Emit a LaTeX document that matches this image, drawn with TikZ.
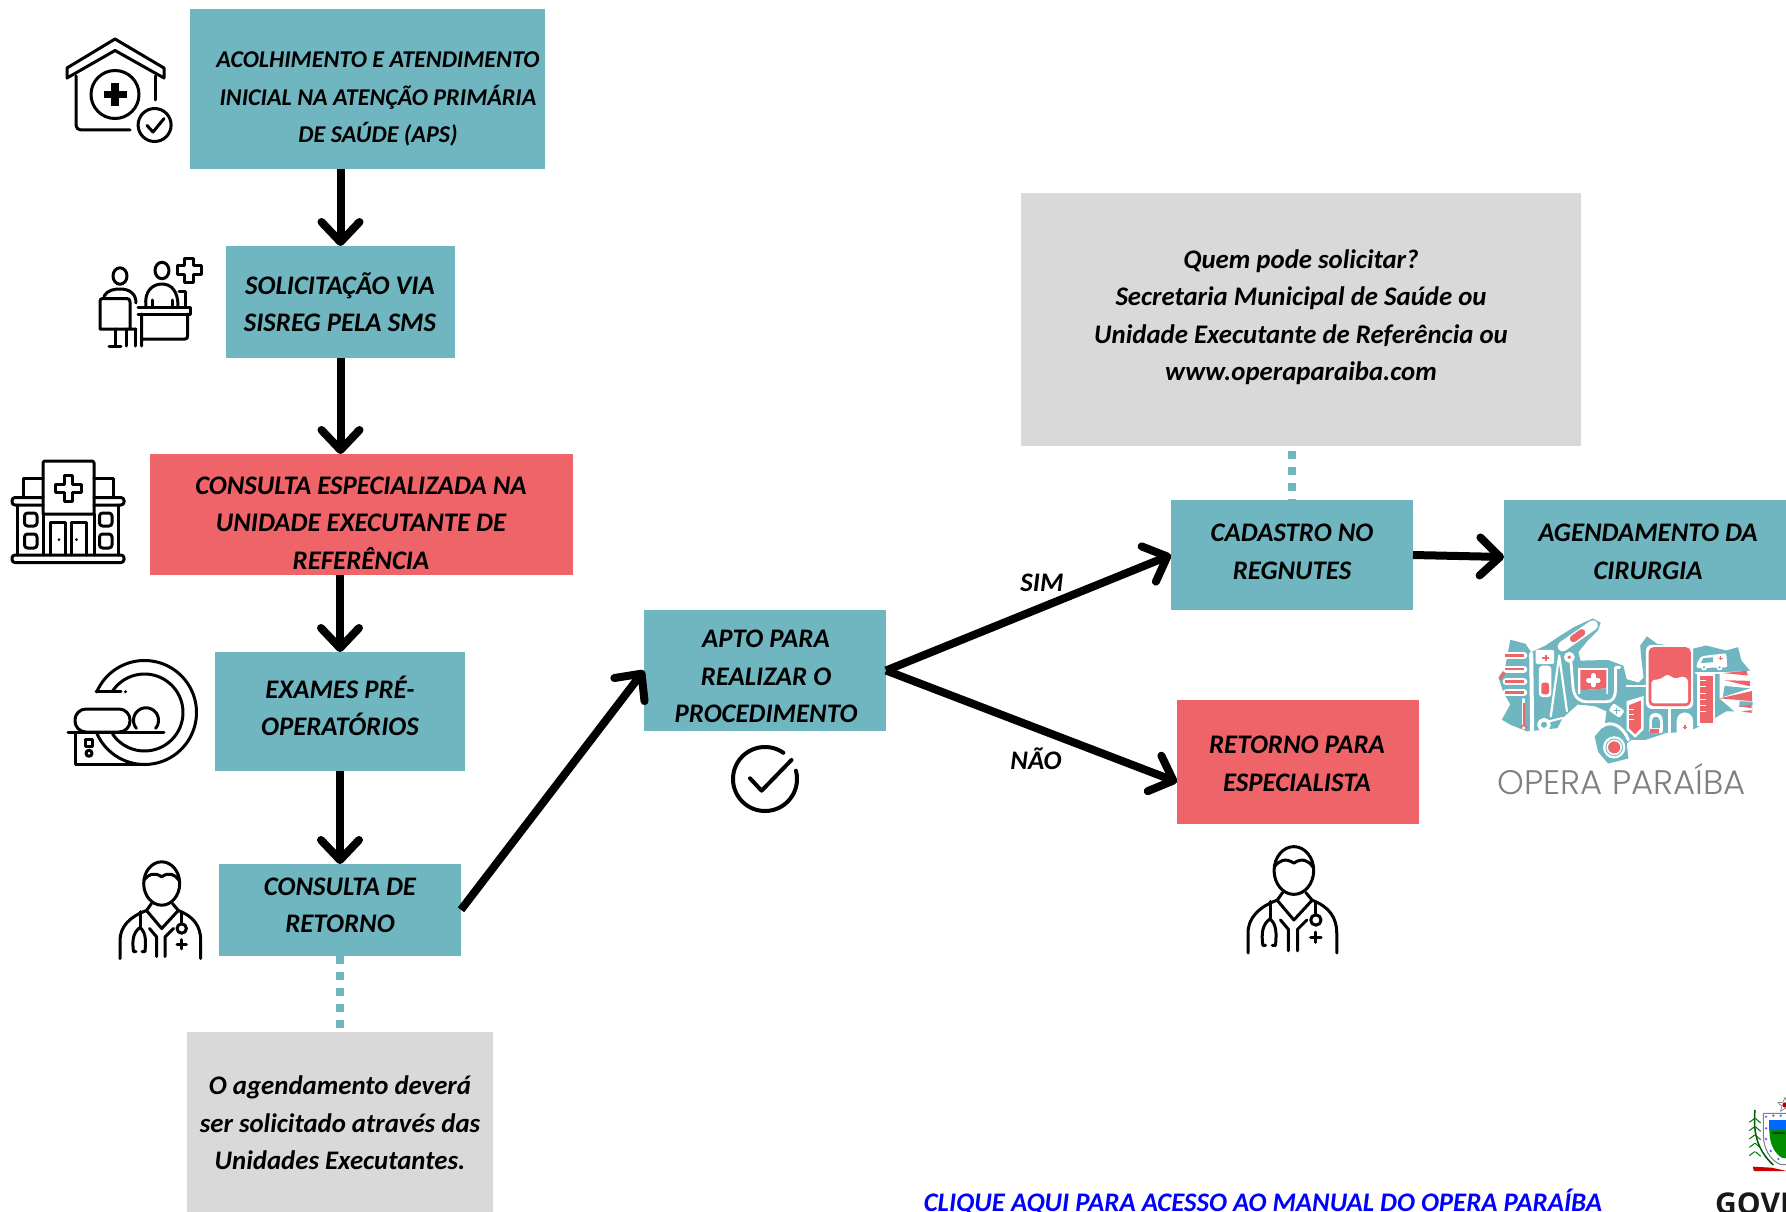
\documentclass[tikz,border=0pt]{standalone}
\usepackage{fontspec}
\usetikzlibrary{arrows.meta,calc,shapes.geometric}
\setmainfont{Carlito}
\newfontfamily\logofont{Poppins}[UprightFont=* Light]
\newfontfamily\govfont{Open Sans}
\definecolor{tealbox}{HTML}{6FB6C1}
\definecolor{redbox}{HTML}{EE6468}
\definecolor{graybox}{HTML}{D9D9D9}
\definecolor{logotext}{HTML}{7F7F7F}
\tikzset{
  block/.style={inner sep=0pt,outer sep=0pt,draw=none},
  tbox/.style={block,fill=tealbox},
  rbox/.style={block,fill=redbox},
  gbox/.style={block,fill=graybox},
  txt/.style={inner sep=0pt,align=center,text=black,font={\fontsize{26.8}{37.5}\selectfont\bfseries\itshape}},
  txts/.style={inner sep=0pt,align=center,text=black,font={\fontsize{24.1}{37.5}\selectfont\bfseries\itshape}},
  flow/.style={line width=8pt,draw=black,-{Straight Barb[length=20pt,width=38pt,round]}},
  dots/.style={draw=tealbox,line width=8.5pt,dash pattern=on 8pt off 8pt},
  ic/.style={line width=3pt,draw=black,line cap=round,line join=round},
  wline/.style={draw=white,line cap=round,line join=round},
  pics/doctor/.style={code={
    \draw[ic] (51.7,35) ellipse [x radius=18,y radius=21.7];
    \draw[ic] (34,31.7) .. controls (38,26) and (44,23) .. (51.7,28.3) .. controls (59,23) and (65,26) .. (69,31.7);
    \draw[ic] (41.5,55) -- (36.5,62) -- (51.7,80) -- (68.3,62) -- (62.5,55);
    \draw[ic] (36.5,62) .. controls (20,68) and (10,78) .. (10,92) -- (10,110);
    \draw[ic] (68.3,62) .. controls (84,68) and (90.7,78) .. (90.7,92) -- (90.7,110);
    \draw[ic] (39.5,80) -- (46.7,88.5) -- (46.7,108);
    \draw[ic] (63.5,80) -- (55,88.5) -- (55,108);
    \draw[ic] (30,63) -- (30,78);
    \draw[ic] (26,103) -- (23.5,103) .. controls (22,92) and (23,84) .. (30,79) .. controls (36,84) and (36,92) .. (35,103) -- (32,103);
    \draw[ic] (71.7,64) -- (71.7,74);
    \draw[ic] (71.7,80) circle [radius=4.7];
    \draw[ic] (67,95.7) -- (76.4,95.7) (71.7,91) -- (71.7,100.4);
  }}
}
\begin{document}
\begin{tikzpicture}[x=1pt,y=-1pt]
\useasboundingbox (0,0) rectangle (1786,1212);
\begin{scope}
\clip (0,0) rectangle (1786,1212);
% ---- boxes
\node[tbox,minimum width=355pt,minimum height=160pt] (b1) at (367.5,89) {};
\node[tbox,minimum width=229pt,minimum height=112pt] (b2) at (340.5,302) {};
\node[rbox,minimum width=423pt,minimum height=121pt] (b3) at (361.5,514.5) {};
\node[tbox,minimum width=250pt,minimum height=119pt] (b4) at (340,711.5) {};
\node[tbox,minimum width=242pt,minimum height=91.6pt] (b5) at (340,909.8) {};
\node[gbox,minimum width=306pt,minimum height=180pt] (note1) at (340,1122) {};
\node[tbox,minimum width=242pt,minimum height=121pt] (apto) at (765,670.5) {};
\node[tbox,minimum width=242pt,minimum height=110pt] (cad) at (1292,555) {};
\node[tbox,minimum width=282pt,minimum height=100pt] (agen) at (1645,550) {};
\node[rbox,minimum width=242pt,minimum height=124.5pt] (ret) at (1298,762) {};
\node[gbox,minimum width=560pt,minimum height=253pt] (note2) at (1301,319.5) {};
% ---- connectors
\draw[dots] (b5.south) -- (note1.north);
\draw[dots,dash phase=11pt] (note2.south -| cad.north) -- (cad.north);
\draw[flow] (b1.south -| b2.north) -- (b2.north);
\draw[flow] (b2.south) -- (b3.north -| b2.south);
\draw[flow] (b3.south -| b4.north) -- (b4.north);
\draw[flow] (b4.south) -- (b5.north);
\draw[flow] (b5.east) -- (apto.west);
\draw[flow] (apto.east) -- (cad.west);
\draw[flow] (apto.east) -- ([yshift=-20pt]ret.west);
\draw[flow] (cad.east) -- ([yshift=-7pt]agen.west);
% ---- texts
\node[txts] (t1) at (378,99) {ACOLHIMENTO E ATENDIMENTO\\INICIAL NA ATENÇÃO PRIMÁRIA\\DE SAÚDE (APS)};
\node[txt] (t2) at (340,302) {SOLICITAÇÃO VIA\\SISREG PELA SMS};
\node[txt] (t3) at (361,523) {CONSULTA ESPECIALIZADA NA\\UNIDADE EXECUTANTE DE\\REFERÊNCIA};
\node[txt] (t4) at (340,706) {EXAMES PRÉ-\\OPERATÓRIOS};
\node[txt] (t5) at (340,905.5) {CONSULTA DE\\RETORNO};
\node[txt] (t6) at (340,1123) {O agendamento deverá\\ser solicitado através das\\Unidades Executantes.};
\node[txt] (t7) at (1301,317) {Quem pode solicitar?\\Secretaria Municipal de Saúde ou\\Unidade Executante de Referência ou\\www.operaparaiba.com};
\node[txt] (t8) at (766,676.5) {APTO PARA\\REALIZAR O\\PROCEDIMENTO};
\node[txt] (t9) at (1292,552) {CADASTRO NO\\REGNUTES};
\node[txt] (t10) at (1648,552) {AGENDAMENTO DA\\CIRURGIA};
\node[txt] (t11) at (1297,764) {RETORNO PARA\\ESPECIALISTA};
\node[txt] (sim) at (1042,583) {SIM};
\node[txt] (nao) at (1036,759) {NÃO};
\node[txt,text=blue,anchor=base] (link) at (1263,1211) {CLIQUE AQUI PARA ACESSO AO MANUAL DO OPERA PARAÍBA};
% ---- house icon
\draw[ic] (67,68) -- (115,39) -- (164,68) -- (164,78) -- (115,50.5) -- (67,78) -- cycle;
\draw[ic] (76,76) -- (76,124) .. controls (76,128) and (78,130) .. (82,130) -- (130,130);
\draw[ic] (155,76) -- (155,100);
\draw[ic] (115,94.5) circle [radius=24];
\draw[line width=7.5pt] (103.5,94.5) -- (126.5,94.5) (115,83) -- (115,106);
\draw[ic] (154.6,125) circle [radius=16.5];
\draw[ic] (147,125.5) -- (153,132) -- (164,118.6);
% ---- desk icon
\draw[ic] (120,276) ellipse [x radius=7,y radius=8.2];
\draw[ic] (104,296) .. controls (108,290) and (114,289) .. (120,289) .. controls (130,289) and (136,294) .. (136,303);
\draw[ic] (103,298.5) -- (127,298.5) .. controls (129,298.5) and (130,300) .. (130,302) -- (130,329) -- (136,329) (130,329) -- (100,329) -- (100,301) .. controls (100,299.5) and (101,298.5) .. (103,298.5);
\draw[ic] (115.5,329) -- (115.5,346) (109,346) -- (121,346) (126,329) -- (126,346) (135,329) -- (135,346);
\draw[ic] (138,307) -- (190.5,307) -- (190.5,314) -- (138,314);
\draw[ic] (141.6,314) -- (141.6,346) (141.6,339) -- (185,339) .. controls (187,339) and (187.5,338) .. (187.5,336) -- (187.5,314);
\draw[ic] (162,270.5) ellipse [x radius=7,y radius=8.2];
\draw[ic] (146,306) .. controls (144,292) and (152,284) .. (162,284) .. controls (172,284) and (178,292) .. (178,306);
\draw[ic] (152,300) -- (152,306) (172,300) -- (172,306);
\draw[ic] (179,291) -- (185,291) -- (185,306);
\draw[ic] (184.5,258) -- (193.5,258) -- (193.5,265.5) -- (201,265.5) -- (201,274.5) -- (193.5,274.5) -- (193.5,282) -- (184.5,282) -- (184.5,274.5) -- (177,274.5) -- (177,265.5) -- (184.5,265.5) -- cycle;
% ---- hospital icon
\draw[ic] (43,514) -- (43,463) .. controls (43,462) and (44,461) .. (45,461) -- (92,461) .. controls (93,461) and (94,462) .. (94,463) -- (94,514) -- cycle;
\draw[ic] (64,475) -- (72,475) -- (72,484) -- (81,484) -- (81,492) -- (72,492) -- (72,501) -- (64,501) -- (64,492) -- (55,492) -- (55,484) -- (64,484) -- cycle;
\draw[ic] (23,497.5) -- (23,478) -- (43,478) (94,478) -- (113.7,478) -- (113.7,497.5);
\draw[ic,rounded corners=3pt] (43,497.5) -- (12,497.5) -- (12,505) -- (43,505);
\draw[ic,rounded corners=3pt] (94,497.5) -- (124,497.5) -- (124,505) -- (94,505);
\draw[ic] (17,505) -- (17,555) (118.6,505) -- (118.6,555) (43,514) -- (43,555) (94,514) -- (94,555);
\draw[ic] (50,555) -- (50,522.5) -- (65,522.5) -- (65,555) (71,555) -- (71,522.5) -- (86,522.5) -- (86,555);
\fill (59,539.6) circle [radius=1.4] (76.5,539.6) circle [radius=1.4];
\draw[ic,rounded corners=3pt] (24.5,513) rectangle (37,526) (24.5,534) rectangle (37,548) (99.5,513) rectangle (112,526) (99.5,534) rectangle (112,548);
\draw[ic,rounded corners=3pt] (12,555) rectangle (124,562.5);
% ---- scanner icon
\draw[ic,variable=\t,samples=70,smooth,domain=156.7:-90] plot ({144.5+52*cos(\t)},{712.5-52*sin(\t)});
\draw[ic,variable=\t,samples=30,smooth,domain=202.7:270] plot ({144.5+52*cos(\t)},{712.5-52*sin(\t)});
\draw[ic,variable=\t,samples=70,smooth,domain=147:-146] plot ({144.5+38.5*cos(\t)},{712.5-38.5*sin(\t)});
\draw[ic] (96.2,691.7) -- (121,691.7);
\fill (125.5,691.7) circle [radius=1.6];
\draw[ic] (68,732.7) -- (164,732.7);
\draw[ic] (75,732.7) -- (75,764.5) -- (145,764.5);
\draw[ic,rounded corners=11pt] (75,732) -- (75,709) -- (130,709) -- (130,732) -- cycle;
\draw[ic,variable=\t,samples=40,smooth,domain=-40:220] plot ({146+12.5*cos(\t)},{720.3-12.5*sin(\t)});
\draw[ic] (85.7,739.3) rectangle (92.3,746);
\draw[ic] (89,753.3) circle [radius=3];
% ---- doctors
\pic at (110,848.5) {doctor};
\pic[scale=1.1] at (1237,832) {doctor};
% ---- check icon
\draw[ic,line width=4pt,variable=\t,samples=80,smooth,domain=55:375] plot ({765+32*cos(\t)},{779-32*sin(\t)});
\draw[ic,line width=4pt] (750,778.3) -- (761.6,790.7) -- (791.5,760);
% ---- logo
\begin{scope}[shift={(1490,610)},scale=0.3375]
\fill[tealbox] (60,88) -- (105,100) -- (122,125) -- (165,105) -- (210,75) -- (250,50) -- (305,25) -- (328,38) -- (320,60) -- (290,90) -- (262,125) -- (268,150) -- (350,148) -- (395,165) -- (405,205) -- (440,215) -- (455,200) -- (448,140) -- (445,105) -- (465,78) -- (495,100) -- (570,110) -- (600,115) -- (640,105) -- (700,120) -- (735,110) -- (745,150) -- (775,185) -- (778,300) -- (700,300) -- (650,330) -- (620,345) -- (590,360) -- (520,365) -- (460,385) -- (420,385) -- (405,395) -- (410,440) -- (350,455) -- (320,420) -- (310,375) -- (340,340) -- (345,300) -- (310,285) -- (260,280) -- (215,320) -- (200,350) -- (110,360) -- (60,340) -- (35,325) -- (60,280) -- (40,245) -- (25,200) -- (45,170) -- cycle;
% bandage
\draw[wline,line width=10pt] (215,108) -- (305,45);
\draw[redbox,line width=7pt,line cap=round] (247,85) -- (272,67);
% coil
\foreach \yy in {135,175,212,245} \draw[wline,line width=7pt] (48,\yy) -- (100,\yy);
\foreach \yy in {135,175,212,245} \draw[redbox,line width=2.5pt] (45,\yy) -- (100,\yy);
\draw[redbox,line width=3pt] (30,205) -- (42,185);
\draw[wline,line width=4pt] (122,130) -- (125,360);
\draw[wline,line width=3pt] (100,265) -- (100,350);
\draw[redbox,line width=1.7pt] (100,275) -- (100,345);
\draw[redbox,line width=1.7pt] (90,350) -- (100,340) -- (110,350);
% kit
\fill[white,rounded corners=1.5pt] (135,118) rectangle (190,160);
\draw[redbox,line width=2.2pt] (155,142) -- (175,142) (165,132) -- (165,152);
\fill[white,rounded corners=3.5pt] (145,165) rectangle (182,258);
\fill[redbox,rounded corners=2.5pt] (152,215) rectangle (175,250);
% forceps
\draw[wline,line width=2.2pt] (205,135) -- (180,315) (205,135) -- (228,300);
\draw[wline,line width=3.5pt] (160,340) circle [radius=15];
\draw[wline,line width=2pt] (175,330) -- (215,320);
% stethoscope band
\draw[wline,line width=2.8pt] (240,155) -- (246,230) .. controls (250,260) and (265,272) .. (290,272) -- (345,272) .. controls (365,272) and (372,255) .. (372,235) -- (372,170) -- (385,170);
\fill[white] (235,140) circle [radius=16];
\fill[redbox] (235,140) circle [radius=5.5];
% shield
\fill[white] (262,172) rectangle (350,248);
\fill[redbox] (268,178) -- (345,178) -- (345,232) -- (268,238) -- cycle;
\fill[tealbox] (268,238) -- (345,232) -- (345,250) -- (268,250) -- cycle;
\draw[wline,line width=5pt] (292,208) -- (320,208) (306,194) -- (306,222);
% syringe and small items
\draw[wline,line width=2.5pt] (405,225) -- (465,225);
\fill[white] (405,270) -- (455,255) -- (455,355) -- (430,378) -- (405,355) -- cycle;
\fill[redbox] (412,282) -- (447,268) -- (447,350) -- (430,368) -- (412,350) -- cycle;
\foreach \yy in {295,310,325} \draw[white,line width=1pt] (412,\yy) -- (428,\yy);
\fill[white,rounded corners=2pt,rotate around={-35:(375,298)}] (355,285) rectangle (395,311);
\draw[tealbox,line width=1.5pt] (366,298) -- (384,298) (375,289) -- (375,307);
\draw[wline,line width=3pt] (332,345) .. controls (360,325) and (395,345) .. (410,385);
% wheel
\fill[white] (368,407) circle [radius=33];
\fill[tealbox] (368,407) circle [radius=26];
\fill[white] (368,407) circle [radius=23];
\fill[redbox] (368,407) circle [radius=18];
% blood bag
\fill[white,rounded corners=6pt] (462,103) rectangle (602,293);
\fill[redbox,rounded corners=5pt] (470,110) rectangle (595,285);
\fill[white,rounded corners=3pt] (478,208) -- (505,205) -- (525,190) -- (550,205) -- (570,195) -- (587,205) -- (587,277) -- (478,277) -- cycle;
\draw[wline,line width=3pt] (531,290) -- (531,362);
\fill[white,rounded corners=2pt] (472,365) -- (472,325) .. controls (475,300) and (505,300) .. (512,325) -- (512,365) -- cycle;
\fill[tealbox] (480,365) -- (480,328) .. controls (482,312) and (500,312) .. (503,328) -- (503,350) -- (480,350) -- cycle;
\fill[redbox] (475,352) rectangle (502,365);
\fill[white,rounded corners=2pt] (553,365) -- (553,325) .. controls (563,298) and (592,298) .. (602,325) -- (602,362) -- cycle;
\draw[redbox,line width=1.5pt] (572,348) -- (584,348) (578,342) -- (578,354);
% ambulance
\fill[white,rounded corners=2pt] (612,160) -- (625,137) -- (700,128) -- (703,170) -- (612,172) -- cycle;
\fill[tealbox] (632,143) -- (660,140) -- (660,155) -- (625,157) -- cycle;
\draw[redbox,line width=1.5pt] (677,143) -- (689,143) (683,137) -- (683,149);
\fill[white] (634,170) circle [radius=9] (680,170) circle [radius=9];
\fill[tealbox] (634,170) circle [radius=4] (680,170) circle [radius=4];
\draw[wline,line width=2.5pt] (610,186) -- (715,186);
% ruler and stripes
\fill[white] (612,190) rectangle (668,345);
\fill[redbox] (622,195) rectangle (660,335);
\foreach \yy in {210,228,246,264,282,300} \draw[white,line width=1pt] (622,\yy) -- (640,\yy);
\fill[white] (680,185) -- (778,180) -- (778,300) -- (730,305) -- (680,262) -- cycle;
\fill[tealbox] (740,270) -- (778,272) -- (778,282) -- (738,288) -- cycle;
\fill[redbox] (690,187) -- (760,180) -- (764,194) -- cycle;
\fill[redbox] (695,208) -- (770,210) -- (770,226) -- cycle;
\fill[tealbox] (695,225) -- (770,232) -- (690,258) -- cycle;
\fill[redbox] (680,262) -- (776,240) -- (776,270) -- cycle;
\fill[redbox] (740,286) -- (775,280) -- (775,291) -- cycle;
\fill[redbox] (745,300) -- (775,297) -- (775,305) -- cycle;
\end{scope}
\node[inner sep=0pt,anchor=center,text=logotext,font={\logofont\fontsize{34}{34}\selectfont}] (logotxt) at (1622,779) {OPERA PARAÍBA};
% ---- coat of arms
\begin{scope}[shift={(1730,1085)},scale=0.3333]
\node[star,star points=5,star point ratio=2.2,minimum size=15pt,inner sep=0pt,fill=white,draw=gray,line width=0.7pt] (coatstar) at (165,60) {};
\fill[red!70!black] (165,60) circle [radius=8];
\draw[gray,fill=white,line width=1pt] (100,85) -- (180,85) -- (180,240) -- (150,238) .. controls (120,225) and (100,190) .. (100,150) -- cycle;
\fill[blue!60!cyan] (118,105) -- (180,105) -- (180,135) -- (118,135) -- cycle;
\fill[green!55!black] (118,135) -- (180,135) -- (180,222) -- (155,218) .. controls (135,205) and (118,180) .. (118,135) -- cycle;
\fill[black!70!green] (125,140) rectangle (165,148);
\fill[black!70] (176,170) ellipse [x radius=6,y radius=22];
\foreach \cx/\cy in {108/95,130/92,152/92,108/130,108/162,122/198,145/222} \fill[blue!60] (\cx,\cy) circle [radius=4];
\draw[green!35!black,line width=1.5pt] (75,75) .. controls (70,130) and (75,190) .. (130,240);
\foreach \cy in {100,125,150,175,200} {\draw[green!45!black,line width=1pt] (74,\cy) -- (58,\cy+12); \draw[green!45!black,line width=1pt] (76,\cy) -- (92,\cy+14);}
\fill[red!80!black] (68,245) -- (125,248) -- (170,258) -- (140,258) -- (72,258) -- cycle;
\end{scope}
\node[inner sep=0pt,anchor=base west,font={\govfont\bfseries\fontsize{30}{30}\selectfont},text=black!90] (gove) at (1715,1214) {GOVE};
\end{scope}
\end{tikzpicture}
\end{document}
